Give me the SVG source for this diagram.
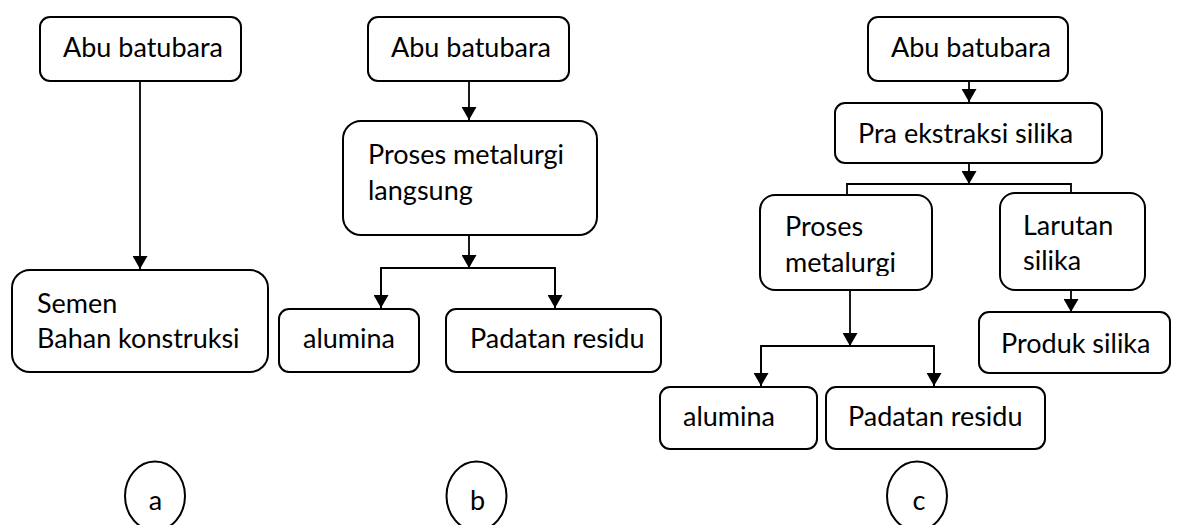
<svg xmlns="http://www.w3.org/2000/svg" width="1177" height="525" viewBox="0 0 1177 525">
<style>
.box{fill:#fff;stroke:#000;stroke-width:2}
.ln{fill:none;stroke:#000;stroke-width:1.8}
.t{font-family:Lato,"Open Sans","Liberation Sans",sans-serif;font-size:27px;fill:#000}
.m{text-anchor:middle}
</style>
<defs>
<marker id="ah" markerUnits="userSpaceOnUse" markerWidth="14" markerHeight="15" refX="13" refY="7.5" orient="auto">
<path d="M0,0 L13,7.5 L0,15 z" fill="#000"/>
</marker>
<clipPath id="clipMet"><rect x="760" y="195" width="172" height="81"/></clipPath>
</defs>
<rect width="1177" height="525" fill="#fff"/>
<g id="connectors">
<line class="ln" x1="140" y1="81" x2="140" y2="269" marker-end="url(#ah)"/>
<line class="ln" x1="469" y1="81" x2="469" y2="120" marker-end="url(#ah)"/>
<line class="ln" x1="469" y1="235" x2="469" y2="268" marker-end="url(#ah)"/>
<polyline class="ln" points="381,308 381,268 555,268 555,308"/>
<line class="ln" x1="381" y1="268" x2="381" y2="308" marker-end="url(#ah)"/>
<line class="ln" x1="555" y1="268" x2="555" y2="308" marker-end="url(#ah)"/>
<line class="ln" x1="969" y1="81" x2="969" y2="102" marker-end="url(#ah)"/>
<line class="ln" x1="969" y1="163" x2="969" y2="184" marker-end="url(#ah)"/>
<polyline class="ln" points="847,195 847,184 1071,184 1071,193"/>
<line class="ln" x1="850" y1="290" x2="850" y2="346" marker-end="url(#ah)"/>
<polyline class="ln" points="761,386 761,346 934,346 934,386"/>
<line class="ln" x1="761" y1="346" x2="761" y2="386" marker-end="url(#ah)"/>
<line class="ln" x1="934" y1="346" x2="934" y2="386" marker-end="url(#ah)"/>
<line class="ln" x1="1071" y1="290" x2="1071" y2="312" marker-end="url(#ah)"/>
</g>
<g id="a-abu"><rect class="box" x="40" y="17" width="201" height="64" rx="10"/><text class="t" x="63" y="57">Abu batubara</text></g>
<g id="a-semen"><rect class="box" x="12" y="270" width="256" height="102" rx="18"/><text class="t" x="37" y="313">Semen</text><text class="t" x="37" y="348">Bahan konstruksi</text></g>
<g id="b-abu"><rect class="box" x="368" y="17" width="201" height="64" rx="10"/><text class="t" x="391" y="57">Abu batubara</text></g>
<g id="b-proses"><rect class="box" x="343" y="121" width="254" height="114" rx="18"/><text class="t" x="368" y="164">Proses metalurgi</text><text class="t" x="368" y="200">langsung</text></g>
<g id="b-alumina"><rect class="box" x="279" y="309" width="140" height="63" rx="10"/><text class="t" x="303" y="348">alumina</text></g>
<g id="b-padatan"><rect class="box" x="446" y="309" width="215" height="63" rx="10"/><text class="t" x="470" y="348">Padatan residu</text></g>
<g id="c-abu"><rect class="box" x="868" y="17" width="200" height="64" rx="10"/><text class="t" x="891" y="57">Abu batubara</text></g>
<g id="c-pra"><rect class="box" x="835" y="103" width="267" height="60" rx="10"/><text class="t" x="858" y="143">Pra ekstraksi silika</text></g>
<g id="c-proses"><rect class="box" x="760" y="195" width="172" height="95" rx="15"/><text class="t" x="785" y="236">Proses</text><text class="t" x="785" y="272" clip-path="url(#clipMet)">metalurgi</text></g>
<g id="c-larutan"><rect class="box" x="1000" y="193" width="145" height="97" rx="15"/><text class="t" x="1023" y="235">Larutan</text><text class="t" x="1023" y="270">silika</text></g>
<g id="c-produk"><rect class="box" x="979" y="312" width="191" height="61" rx="10"/><text class="t" x="1001" y="353">Produk silika</text></g>
<g id="c-alumina"><rect class="box" x="660" y="387" width="157" height="62" rx="10"/><text class="t" x="683" y="426">alumina</text></g>
<g id="c-padatan"><rect class="box" x="826" y="387" width="219" height="62" rx="10"/><text class="t" x="848" y="426">Padatan residu</text></g>
<g id="label-a"><ellipse class="box" cx="155" cy="496" rx="30" ry="34.5"/><text class="t m" x="155.5" y="510">a</text></g>
<g id="label-b"><ellipse class="box" cx="476.5" cy="496" rx="30" ry="34.5"/><text class="t m" x="477.5" y="510">b</text></g>
<g id="label-c"><ellipse class="box" cx="917" cy="496" rx="30" ry="34.5"/><text class="t m" x="919" y="510">c</text></g>
</svg>
